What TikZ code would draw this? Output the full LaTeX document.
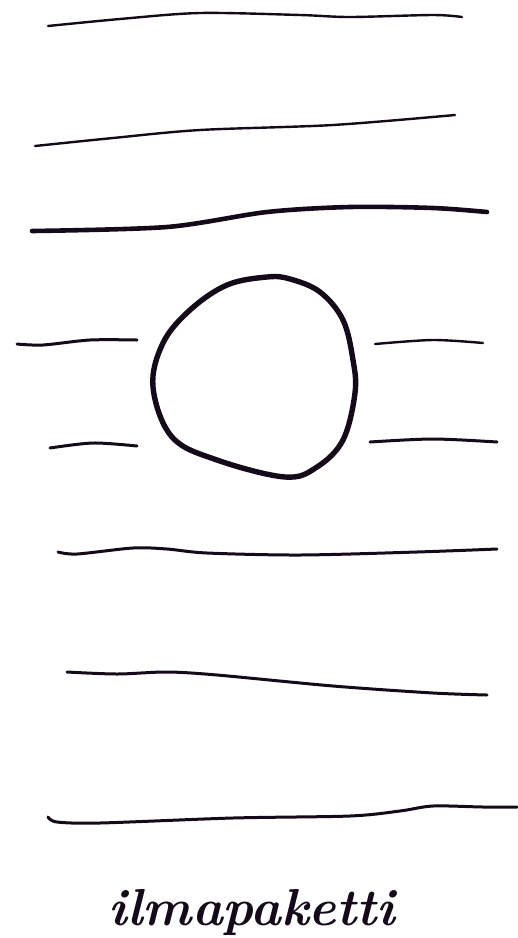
\documentclass[tikz,border=0pt]{standalone}
\usepackage{fontspec}
\definecolor{ink}{rgb}{0.08,0.04,0.1}
\begin{document}
\begin{tikzpicture}[x=1pt,y=-1pt,
  stroke/.style={draw=ink,line cap=round,line join=round,line width=3pt},
  thin stroke/.style={stroke,line width=2.4pt},
  thick stroke/.style={stroke,line width=4.6pt},
  label/.style={text=ink,font=\fontsize{52}{52}\selectfont\bfseries\itshape,inner sep=0pt,anchor=base}]
\useasboundingbox (0,0) rectangle (518,938);
% stream lines above
\draw[thin stroke] plot[smooth] coordinates {(48,26) (120,19) (200,13) (300,15) (350,17) (433,15) (462,17)};
\draw[thin stroke] plot[smooth] coordinates {(35,146) (113,138) (200,130) (333,125) (455,115)};
\draw[thick stroke] plot[smooth] coordinates {(32,231) (167,227) (267,212) (350,207) (433,208) (487,212)};
% short lines beside the parcel
\draw[stroke] plot[smooth] coordinates {(17,344) (43,345) (90,340) (137,340)};
\draw[stroke] plot[smooth] coordinates {(50,448) (93,443) (137,446)};
\draw[thin stroke] plot[smooth] coordinates {(375,344) (433,340) (483,343)};
\draw[stroke] plot[smooth] coordinates {(370,442) (433,439) (497,442)};
% air parcel
\draw[stroke,line width=5.4pt] plot[smooth cycle,tension=0.6] coordinates {(267,277) (290,279) (320,292) (343,320) (353,360) (355,393) (343,440) (317,467) (285,477) (217,460) (172,437) (153,387) (163,343) (190,310) (227,285)};
% stream lines below
\draw[stroke] plot[smooth] coordinates {(58,552) (77,554) (133,548) (167,549) (207,553) (300,555) (417,552) (497,549)};
\draw[stroke] plot[smooth] coordinates {(67,672) (117,674) (167,672) (217,675) (333,686) (433,693) (487,695)};
\draw[stroke] plot[smooth] coordinates {(48,817) (57,822) (100,823) (233,818) (350,816) (400,811) (433,806) (483,807) (517,807)};
% caption
\node[label] (caption) at (252,925) {ilmapaketti};
\end{tikzpicture}
\end{document}
